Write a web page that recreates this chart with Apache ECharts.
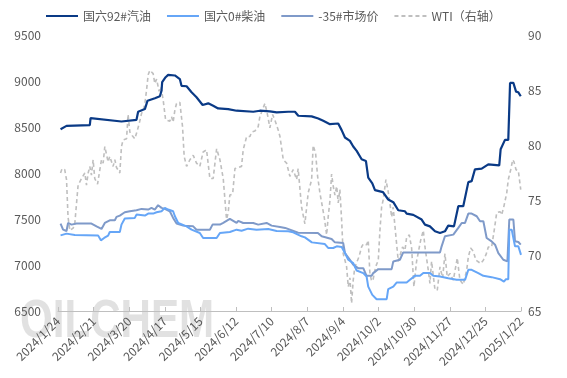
<!DOCTYPE html>
<html>
<head>
<meta charset="utf-8">
<script src="https://cdn.jsdelivr.net/npm/echarts@6/dist/echarts.min.js"></script>
<style>
  html, body { margin: 0; padding: 0; background: #fff; }
  #line-chart { width: 567px; height: 378px; }
</style>
</head>
<body>
<div id="line-chart"></div>
<script>
// x = days since 2024/1/24
const startDate = [2024, 0, 24];
const tickDays = 28;

const gasolineX = [2, 6.7, 25, 25.6, 49.9, 61.7, 63, 68.3, 70.4, 76.2, 80.1, 81.4, 81.9, 84.6, 86.6, 91.9, 95.8, 97.1, 101.1, 105, 108.9, 113.7, 118.1, 122, 125.9, 133.8, 140.4, 153.5, 158.7, 166.6, 171.9, 181, 186.3, 188.9, 199.4, 204.6, 208.5, 213.8, 220.3, 223, 225.6, 229.5, 232.1, 234.8, 238.7, 242.1, 243.9, 247.1, 249.2, 255.5, 259.6, 263.6, 267.5, 272.8, 274.1, 279.3, 285.9, 288.5, 292.4, 296.4, 300.3, 304.2, 306.8, 311.3, 314.7, 318.6, 322.6, 325.2, 327.8, 333.1, 338.3, 346.9, 348, 351.4, 354, 355.4, 358, 360.1, 361.9, 363.8];
const gasolineY = [8476, 8512, 8520, 8597, 8560, 8578, 8666, 8695, 8786, 8812, 8834, 8895, 8987, 9041, 9066, 9060, 9021, 8948, 8943, 8877, 8823, 8739, 8757, 8731, 8702, 8695, 8677, 8666, 8677, 8670, 8659, 8666, 8666, 8622, 8615, 8593, 8567, 8531, 8538, 8466, 8386, 8349, 8288, 8240, 8149, 8130, 7949, 7887, 7814, 7792, 7712, 7683, 7595, 7584, 7559, 7545, 7494, 7439, 7420, 7366, 7348, 7366, 7428, 7420, 7639, 7639, 7901, 7912, 8040, 8047, 8094, 8083, 8258, 8360, 8360, 8979, 8979, 8884, 8877, 8834];

const dieselX = [2, 6.7, 13.2, 31.5, 32.9, 33.7, 36.3, 39.4, 40.7, 48.6, 49.9, 52.5, 60.4, 61.7, 68.3, 70.9, 74.8, 77.5, 81.4, 84, 86.6, 90.5, 91.9, 94.5, 101.1, 105, 111.5, 114.1, 124.7, 127.3, 135.1, 140.4, 144.3, 149.5, 156.1, 165.3, 171.9, 181, 184.9, 191.5, 194.1, 199.6, 209.8, 212.4, 216.4, 219.1, 223, 225.6, 228.2, 232.1, 234.8, 240, 242.6, 243.9, 247.1, 250.5, 258.4, 259.6, 263.6, 266.2, 274.1, 276.7, 280.6, 284.6, 287.2, 292.4, 295, 300.3, 306.8, 313.4, 320, 322.6, 325.2, 330.4, 334.4, 340.9, 347.5, 350.6, 352.2, 354, 354.8, 356.7, 359.3, 361.9, 363.2, 364];
const dieselY = [7322, 7341, 7327, 7322, 7312, 7268, 7294, 7319, 7359, 7359, 7439, 7505, 7512, 7548, 7537, 7559, 7559, 7573, 7584, 7621, 7603, 7584, 7530, 7457, 7420, 7384, 7348, 7294, 7294, 7348, 7359, 7384, 7373, 7395, 7384, 7392, 7370, 7366, 7355, 7312, 7300, 7246, 7228, 7185, 7185, 7203, 7196, 7130, 7057, 7021, 6940, 6912, 6875, 6765, 6675, 6628, 6628, 6737, 6765, 6809, 6809, 6839, 6882, 6882, 6912, 6912, 6882, 6875, 6857, 6839, 6839, 6948, 6948, 6912, 6882, 6868, 6846, 6820, 6846, 6846, 7384, 7384, 7203, 7203, 7185, 7110];

const minus35X = [2, 4, 6.7, 7.9, 10.6, 14.6, 26.3, 30.3, 34.2, 36.8, 40.7, 44.7, 46, 48.6, 52.5, 56.5, 61.7, 65.7, 70.9, 73.5, 76.1, 78.7, 81.4, 84, 87.9, 90.5, 93.2, 98.4, 106.3, 108.9, 119.4, 121.5, 127.3, 129.9, 135.1, 140.4, 141.7, 145.6, 153.5, 157.4, 164, 167.9, 174.5, 178.6, 188.8, 204.3, 207.3, 215.1, 217.7, 224.2, 225.6, 229.5, 232.1, 236, 240, 242.6, 246.6, 247.8, 251.8, 262.3, 263.6, 268.8, 271.4, 300.3, 301.6, 304.2, 310.8, 314.7, 317.4, 320, 322.6, 325.2, 329.2, 331.8, 334.4, 337, 340.9, 343.6, 346.2, 350.1, 353.3, 354.8, 358, 359.3, 361.9, 363.8];
const minus35Y = [7450, 7384, 7370, 7457, 7439, 7450, 7450, 7420, 7392, 7457, 7486, 7486, 7523, 7537, 7573, 7584, 7595, 7610, 7603, 7621, 7603, 7650, 7621, 7610, 7584, 7512, 7450, 7428, 7420, 7384, 7384, 7439, 7439, 7457, 7501, 7457, 7480, 7457, 7457, 7439, 7457, 7428, 7414, 7403, 7350, 7348, 7312, 7283, 7246, 7239, 7130, 7057, 7003, 6966, 6966, 6882, 6882, 6912, 6955, 6955, 7039, 7057, 7137, 7137, 7203, 7312, 7330, 7403, 7457, 7457, 7559, 7559, 7530, 7475, 7475, 7294, 7257, 7221, 7130, 7057, 7039, 7494, 7494, 7257, 7250, 7221];

const wtiX = [2, 3.2, 5.3, 6.7, 7.9, 9.3, 11.9, 13.2, 14.6, 15.8, 18.5, 21.1, 22.4, 23.7, 25, 26.3, 27.6, 28.9, 31.1, 32.9, 34.2, 35.5, 36.8, 38.1, 39.4, 40.7, 43.3, 44.7, 46, 48.6, 49.9, 51.2, 53.9, 55.1, 56.5, 58.3, 60.4, 62.5, 64.3, 65.7, 66.9, 68.3, 69.6, 70.9, 72.2, 74.8, 76.1, 77.5, 79.5, 80.9, 82.7, 84.6, 87.9, 89.3, 90.5, 91.9, 93.2, 95.8, 97.9, 99.2, 101.1, 103.7, 106.3, 108.9, 111.5, 114.1, 116.8, 119.4, 122, 124.7, 127.3, 129.9, 132.5, 133.8, 135.1, 137.3, 139.1, 144.3, 145.6, 148.3, 150.9, 152.2, 154.8, 157.4, 158.7, 161.3, 162.7, 164.5, 166.6, 168.7, 170.5, 173.1, 174.5, 177.1, 179.7, 182.3, 184.9, 187.6, 188.8, 191.5, 194.1, 196.7, 199.4, 200.6, 202.5, 204.1, 205.9, 209.3, 211.2, 212.4, 213.8, 215.1, 216.4, 217.7, 219.1, 220.3, 221.6, 223, 224.2, 225.6, 226.9, 228.2, 229.5, 230.8, 232.1, 233.4, 234.8, 236.6, 238.7, 240.1, 242.7, 243.9, 245.2, 246.6, 247.8, 249.7, 251.8, 253.1, 254.4, 255.7, 257.8, 259.6, 260.9, 262.3, 263.5, 265.7, 267.5, 268.8, 270.9, 272.8, 274.1, 276.2, 278, 279.8, 281.9, 283.2, 285.1, 287.2, 288.5, 291.1, 292.4, 293.7, 296.4, 298.2, 300.3, 302.4, 304.2, 306, 308.2, 310.8, 313.9, 316, 318.6, 321.3, 322.6, 324.4, 326.5, 328.6, 332.3, 334.4, 336.5, 338.3, 340.9, 342.8, 344.9, 347.5, 348.8, 350.6, 352.8, 354, 355.9, 357.5, 358.5, 360.1, 361.9, 363.8];
const wtiY = [77.5, 77.9, 77.8, 76.9, 73.5, 72.3, 72.5, 72.9, 74.8, 76.4, 77.0, 77.5, 76.4, 77.5, 78.1, 77.3, 78.7, 77.0, 76.5, 77.8, 78.7, 78.4, 79.9, 79.9, 78.5, 79.0, 78.1, 78.7, 78.0, 77.5, 79.9, 80.5, 80.6, 82.8, 81.2, 80.9, 80.6, 81.4, 82.2, 82.9, 83.1, 83.8, 85.0, 86.4, 86.8, 86.5, 85.6, 86.0, 84.9, 85.3, 84.1, 82.3, 82.2, 82.6, 82.1, 83.2, 83.8, 83.9, 81.7, 79.0, 78.1, 78.7, 79.1, 78.4, 78.1, 79.4, 79.6, 77.0, 77.0, 79.7, 78.7, 77.0, 73.3, 73.9, 75.5, 75.6, 77.9, 78.1, 79.6, 80.8, 80.8, 81.2, 81.3, 81.7, 82.6, 83.4, 83.8, 82.9, 81.6, 82.8, 82.3, 81.4, 80.8, 78.7, 78.4, 77.2, 77.8, 76.9, 77.9, 74.4, 72.9, 75.7, 76.9, 80.0, 79.3, 77.2, 75.7, 73.5, 71.9, 73.5, 75.0, 77.4, 76.3, 75.5, 76.3, 74.8, 76.0, 73.2, 70.2, 69.6, 69.0, 67.2, 68.0, 65.7, 67.8, 69.0, 68.9, 69.9, 70.8, 71.1, 71.0, 71.4, 68.4, 67.7, 67.9, 69.0, 69.6, 72.3, 74.4, 75.1, 76.9, 75.8, 74.8, 73.5, 74.4, 71.7, 69.5, 69.6, 70.8, 70.5, 71.7, 71.9, 70.7, 67.2, 69.5, 69.5, 71.4, 72.3, 70.8, 68.7, 67.5, 69.5, 66.9, 66.9, 69.0, 68.0, 70.2, 68.1, 68.4, 67.8, 69.8, 67.8, 67.4, 68.7, 69.9, 70.7, 70.4, 69.6, 69.3, 69.6, 70.1, 70.8, 70.8, 72.2, 73.9, 74.0, 73.7, 74.5, 75.7, 76.9, 77.8, 78.7, 78.5, 77.8, 77.7, 76.0];

const leftTicks = [6500, 9500, 500];
const rightTicks = [65, 90, 5];

const pairs = (xs, ys) => xs.map((x, i) => [x, ys[i]]);

function dateLabel(v) {
  const d = new Date(startDate[0], startDate[1], startDate[2] + Math.round(v));
  return d.getFullYear() + "/" + (d.getMonth() + 1) + "/" + d.getDate();
}

const font = "'Noto Sans CJK SC', 'Noto Sans', sans-serif";
const textColor = "#595959";

const option = {
  animation: false,
  textStyle: { fontFamily: font },
  legend: {
    top: 5,
    left: 40,
    itemWidth: 32,
    itemHeight: 14,
    itemGap: 15,
    itemStyle: { opacity: 0 },
    textStyle: { color: textColor, fontSize: 12, fontFamily: font },
    data: ["国六92#汽油", "国六0#柴油", "-35#市场价", "WTI（右轴）"],
  },
  graphic: [
    {
      type: "text",
      x: 20,
      y: 322,
      scaleX: 0.78,
      z: -1,
      silent: true,
      style: {
        text: "OILCHEM",
        font: "bold 54px 'Liberation Sans', Arial, sans-serif",
        fill: "rgba(200,200,200,0.55)",
        verticalAlign: "middle",
      },
    },
  ],
  grid: { left: 58, right: 46, top: 35, bottom: 67 },
  xAxis: {
    type: "value",
    min: 0,
    max: 364,
    interval: tickDays,
    axisLine: { show: true, lineStyle: { color: "#bfbfbf" } },
    axisTick: { show: true, inside: true, length: 4, lineStyle: { color: "#bfbfbf" } },
    splitLine: { show: false },
    axisLabel: {
      rotate: 45,
      color: textColor,
      fontSize: 12,
      margin: 8,
      formatter: dateLabel,
    },
  },
  yAxis: [
    {
      type: "value",
      min: leftTicks[0],
      max: leftTicks[1],
      interval: leftTicks[2],
      axisLine: { show: false },
      axisTick: { show: false },
      splitLine: { show: false },
      axisLabel: { color: textColor, fontSize: 12, margin: 17, formatter: (v) => String(v) },
    },
    {
      type: "value",
      min: rightTicks[0],
      max: rightTicks[1],
      interval: rightTicks[2],
      axisLine: { show: false },
      axisTick: { show: false },
      splitLine: { show: false },
      axisLabel: { color: textColor, fontSize: 12, margin: 7, formatter: (v) => String(v) },
    },
  ],
  series: [
    {
      name: "WTI（右轴）",
      type: "line",
      yAxisIndex: 1,
      symbol: "none",
      z: 1,
      lineStyle: { color: "#bfbfbf", width: 1.6, type: [4, 3] },
      itemStyle: { color: "#bfbfbf" },
      data: pairs(wtiX, wtiY),
    },
    {
      name: "-35#市场价",
      type: "line",
      symbol: "none",
      z: 2,
      lineStyle: { color: "#7f9ac9", width: 2 },
      itemStyle: { color: "#7f9ac9" },
      data: pairs(minus35X, minus35Y),
    },
    {
      name: "国六0#柴油",
      type: "line",
      symbol: "none",
      z: 3,
      lineStyle: { color: "#66a6f7", width: 2 },
      itemStyle: { color: "#66a6f7" },
      data: pairs(dieselX, dieselY),
    },
    {
      name: "国六92#汽油",
      type: "line",
      symbol: "none",
      z: 4,
      lineStyle: { color: "#0a3a86", width: 2.2 },
      itemStyle: { color: "#0a3a86" },
      data: pairs(gasolineX, gasolineY),
    },
  ],
};

const chart = echarts.init(document.getElementById("line-chart"));
chart.setOption(option);
</script>
</body>
</html>
